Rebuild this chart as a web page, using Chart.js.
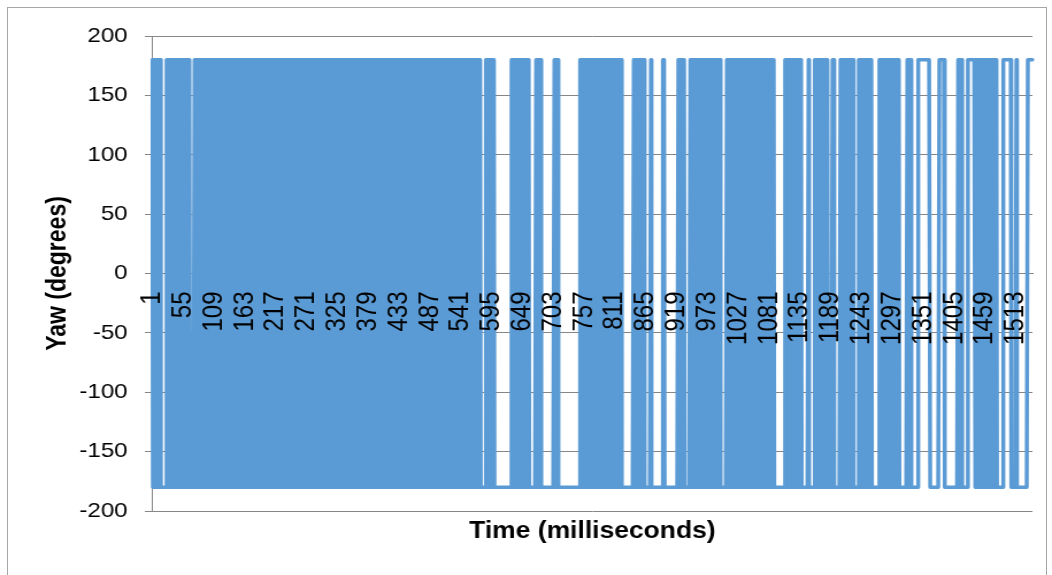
<!DOCTYPE html>
<html>
<head>
<meta charset="utf-8">
<script src="https://cdn.jsdelivr.net/npm/chart.js@4.4.1/dist/chart.umd.min.js"></script>
<style>
  html, body { margin: 0; padding: 0; background: #fff; }
  body { width: 1052px; height: 575px; overflow: hidden; position: relative; }
  #frame { position: absolute; left: 7px; top: 7px; width: 1038px; height: 600px; border: 1px solid #a6a6a6; }
  /* the reference is a horizontally stretched Excel chart, so stretch the canvas the same way */
  #wrap { position: absolute; left: 0; top: 0; width: 915px; height: 575px; transform: scaleX(1.1497); transform-origin: 0 0; }
</style>
</head>
<body>
<div id="frame"></div>
<div id="wrap"><canvas id="chart" width="915" height="575"></canvas></div>
<script>
const SAMPLE_COUNT = 1542;
const LABEL_STEP = 54;      // Excel shows every 54th category: 1, 55, 109 ...
const YAW_HIGH = 180;
const YAW_LOW = -180;

// Flat stretches (sample index ranges, 0 based).
// Everywhere else the yaw flips between +180 and -180 on every sample,
// which is what paints the solid blue blocks.
const flatStart = [15, 67, 575, 599, 661, 681, 712, 823, 863, 874, 898, 933, 996, 1090, 1138, 1150, 1183, 1195, 1228, 1260, 1309, 1330, 1341, 1362, 1378, 1387, 1419, 1428, 1479, 1490, 1504, 1514, 1533];
const flatEnd   = [24, 73, 583, 628, 671, 703, 748, 842, 872, 893, 920, 941, 1005, 1107, 1148, 1159, 1190, 1204, 1236, 1272, 1321, 1340, 1361, 1377, 1386, 1410, 1427, 1440, 1489, 1503, 1512, 1532, 1541];
const flatYaw   = [-180, -180, -180, -180, -180, -180, -180, -180, -180, -180, -180, -180, -180, -180, -180, -180, -180, -180, -180, -180, -180, -180, 180, -180, 180, -180, -180, 180, -180, 180, -180, -180, 180];

const yTicks = [-200, -150, -100, -50, 0, 50, 100, 150, 200];

const timeLabels = [];
const yawValues = [];
let prev = YAW_LOW;
for (let i = 0; i < SAMPLE_COUNT; i++) {
  timeLabels.push(String(i + 1));
  let v = null;
  for (let r = 0; r < flatStart.length; r++) {
    if (i >= flatStart[r] && i <= flatEnd[r]) { v = flatYaw[r]; break; }
  }
  if (v === null) v = prev === YAW_HIGH ? YAW_LOW : YAW_HIGH;
  yawValues.push(v);
  prev = v;
}

const GRID = '#868686';

// rotated tick labels make chart.js reserve room at the ends, Excel does not
function noEndPadding(s) {
  s.paddingLeft = 0;
  s.paddingRight = 0;
}

new Chart(document.getElementById('chart'), {
  type: 'line',
  data: {
    labels: timeLabels,
    datasets: [{
      data: yawValues,
      borderColor: '#5B9BD5',
      borderWidth: 3.5,
      borderJoinStyle: 'round',
      borderCapStyle: 'round',
      pointRadius: 0,
      tension: 0,
      fill: false
    }]
  },
  options: {
    responsive: false,
    animation: false,
    devicePixelRatio: 1,
    layout: { padding: { left: 0, top: 36, right: 17, bottom: 0 } },
    plugins: { legend: { display: false }, tooltip: { enabled: false } },
    scales: {
      x: {
        type: 'category',
        position: { y: 0 },
        afterFit: noEndPadding,
        grid: { display: false, drawTicks: false },
        border: { display: true, color: GRID, width: 1 },
        ticks: {
          z: 1,
          autoSkip: false,
          minRotation: 90,
          maxRotation: 90,
          padding: 18,
          color: '#000',
          font: { family: 'Liberation Sans, Arial, sans-serif', size: 24 },
          callback: function (val, i) {
            return i % LABEL_STEP === 0 ? timeLabels[i] : '';
          }
        }
      },
      xt: {
        type: 'category',
        position: 'bottom',
        afterFit: s => { noEndPadding(s); s.height = 64; },
        grid: { display: false, drawTicks: false },
        border: { display: false },
        ticks: { display: false },
        title: {
          display: true,
          text: 'Time (milliseconds)',
          color: '#000',
          font: { family: 'Liberation Sans, Arial, sans-serif', size: 23, weight: 'bold' },
          padding: { top: 0, bottom: 30 }
        }
      },
      y: {
        min: -200,
        max: 200,
        afterFit: s => { s.width = 132.5; },
        afterBuildTicks: s => { s.ticks = yTicks.map(v => ({ value: v })); },
        grid: { color: GRID, lineWidth: 1, drawTicks: true, tickLength: 6.5, tickColor: GRID },
        border: { display: true, color: GRID, width: 1 },
        ticks: {
          padding: 15,
          color: '#000',
          font: { family: 'Liberation Sans, Arial, sans-serif', size: 21 }
        },
        title: {
          display: true,
          text: 'Yaw (degrees)',
          color: '#000',
          font: { family: 'Liberation Sans, Arial, sans-serif', size: 23, weight: 'bold' },
          padding: { top: 36.6, bottom: 0 }
        }
      }
    }
  }
});
</script>
</body>
</html>
